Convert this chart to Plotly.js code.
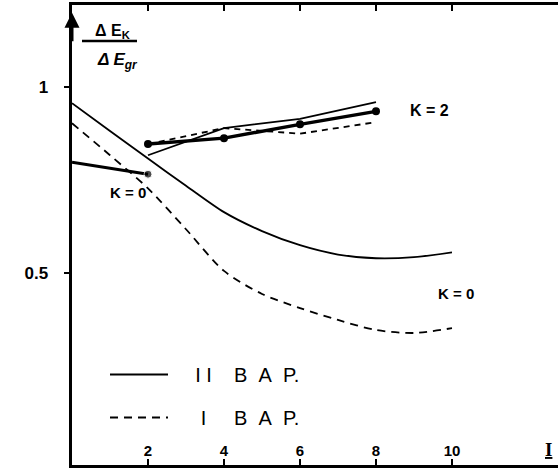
<!DOCTYPE html>
<html>
<head>
<meta charset="utf-8">
<script src="https://cdn.plot.ly/plotly-3.0.1.min.js"></script>
<style>
html,body{margin:0;padding:0;background:#fff;}
#chart{width:558px;height:468px;}
</style>
</head>
<body>
<div id="chart"></div>
<script>
// Quantum number I (x axis)
const iFull = [0, 1, 2, 3, 4, 5, 6, 7, 8, 9, 10];
// K = 0, variant II (solid curve)
const k0VarII = [0.957, 0.882, 0.808, 0.735, 0.664, 0.613, 0.575, 0.55, 0.54, 0.543, 0.556];
// K = 0, variant I (dashed curve)
const k0VarI = [0.903, 0.817, 0.728, 0.618, 0.506, 0.444, 0.406, 0.374, 0.347, 0.339, 0.352];
// K = 0, experimental short segment
const iK0Exp = [0, 2];
const k0Exp = [0.798, 0.766];
// K = 2 series
const iK2 = [2, 4, 6, 8];
const k2Exp = [0.847, 0.863, 0.90, 0.935];
const k2VarII = [0.817, 0.89, 0.915, 0.96];
const k2VarI = [0.847, 0.89, 0.875, 0.906];
// tick labels
const xTicks = [2, 4, 6, 8, 10];
const xTickText = ['2', '4', '6', '8', '10'];
const yTicks = [0.5, 1];
const yTickText = ['0.5', '1'];
// legend names
const NB = '\u00A0';
const spaced = 'B' + NB + NB + 'A' + NB + NB + 'P.';
const nameVarII = NB.repeat(4) + 'I' + NB + 'I' + NB.repeat(4) + spaced;
const nameVarI = NB.repeat(5) + 'I' + NB.repeat(5) + spaced;

const FONT = 'Liberation Sans, Arial, sans-serif';
const BLK = '#000';

const traces = [
  {x: iFull, y: k0VarII, mode: 'lines', line: {color: BLK, width: 1.8, shape: 'spline', smoothing: 0.8},
   name: nameVarII, legendgroup: 'a', showlegend: true},
  {x: iFull, y: k0VarI, mode: 'lines', line: {color: BLK, width: 1.8, shape: 'spline', smoothing: 0.8, dash: '8px,6px'},
   name: nameVarI, legendgroup: 'b', showlegend: true},
  {x: iK0Exp, y: k0Exp, mode: 'lines+markers', line: {color: BLK, width: 3},
   marker: {color: BLK, size: [0, 8]}, showlegend: false},
  {x: iK2, y: k2VarII, mode: 'lines', line: {color: BLK, width: 1.8}, showlegend: false},
  {x: iK2, y: k2VarI, mode: 'lines', line: {color: BLK, width: 1.8, dash: '6px,5px'}, showlegend: false},
  {x: iK2, y: k2Exp, mode: 'lines+markers', line: {color: BLK, width: 3.5},
   marker: {color: BLK, size: 8}, showlegend: false}
];

const px2x = p => (p - 72) / 486;   // paper x from pixel
const py2y = p => (465 - p) / 460;  // paper y from pixel

function label(x, y, text, size, extra) {
  return Object.assign({x: x, y: y, text: text, showarrow: false, xanchor: 'center', yanchor: 'middle',
    font: {family: FONT, size: size, color: BLK}}, extra || {});
}

const layout = {
  width: 558, height: 468,
  margin: {l: 72, r: 0, t: 5, b: 3},
  paper_bgcolor: '#fff', plot_bgcolor: '#fff',
  font: {family: FONT, color: BLK},
  xaxis: {
    range: [0, 12.79], showgrid: false, zeroline: false,
    showline: true, linewidth: 3, linecolor: BLK, mirror: 'ticks',
    ticks: 'inside', ticklen: 6, tickwidth: 2, tickcolor: BLK,
    tickvals: xTicks, ticktext: xTickText, ticklabelposition: 'inside',
    tickfont: {family: FONT, size: 15, weight: 'bold', color: BLK}
  },
  yaxis: {
    range: [-0.016, 1.221], showgrid: false, zeroline: false,
    showline: true, linewidth: 3.5, linecolor: BLK,
    ticks: 'outside', ticklen: 5, tickwidth: 2, tickcolor: BLK,
    tickvals: yTicks, ticktext: yTickText, ticklabelstandoff: 12,
    tickfont: {family: FONT, size: 17, weight: 'bold', color: BLK}
  },
  showlegend: true,
  legend: {
    x: px2x(105), y: py2y(355), xanchor: 'left', yanchor: 'top',
    bgcolor: 'rgba(0,0,0,0)', borderwidth: 0,
    font: {family: FONT, size: 20, color: BLK},
    itemwidth: 58, traceorder: 'grouped', tracegroupgap: 14,
    itemclick: false
  },
  shapes: [
    {type: 'line', xref: 'paper', yref: 'paper', x0: px2x(82), x1: px2x(137),
     y0: py2y(41), y1: py2y(41), line: {color: BLK, width: 2.5}}
  ],
  annotations: [
    label(px2x(112), py2y(31), '<b>Δ E<sub>K</sub></b>', 16, {xref: 'paper', yref: 'paper'}),
    label(px2x(117), py2y(61), '<b><i>Δ E<sub>gr</sub></i></b>', 17, {xref: 'paper', yref: 'paper'}),
    label(9.42, 0.938, '<b>K = 2</b>', 16),
    label(10.1, 0.446, '<b>K = 0</b>', 15),
    label(1.47, 0.718, '<b>K = 0</b>', 15),
    label(px2x(548), py2y(449), '<b><u>I</u></b>', 19,
      {xref: 'paper', yref: 'paper', font: {family: 'Liberation Serif, serif', size: 19, color: BLK}}),
    {x: 0, y: 1.2, ax: 0, ay: 30, text: '', showarrow: true, arrowhead: 2, arrowsize: 1,
     arrowwidth: 3, arrowcolor: BLK}
  ]
};

Plotly.newPlot('chart', traces, layout, {staticPlot: true, displayModeBar: false});
</script>
</body>
</html>
